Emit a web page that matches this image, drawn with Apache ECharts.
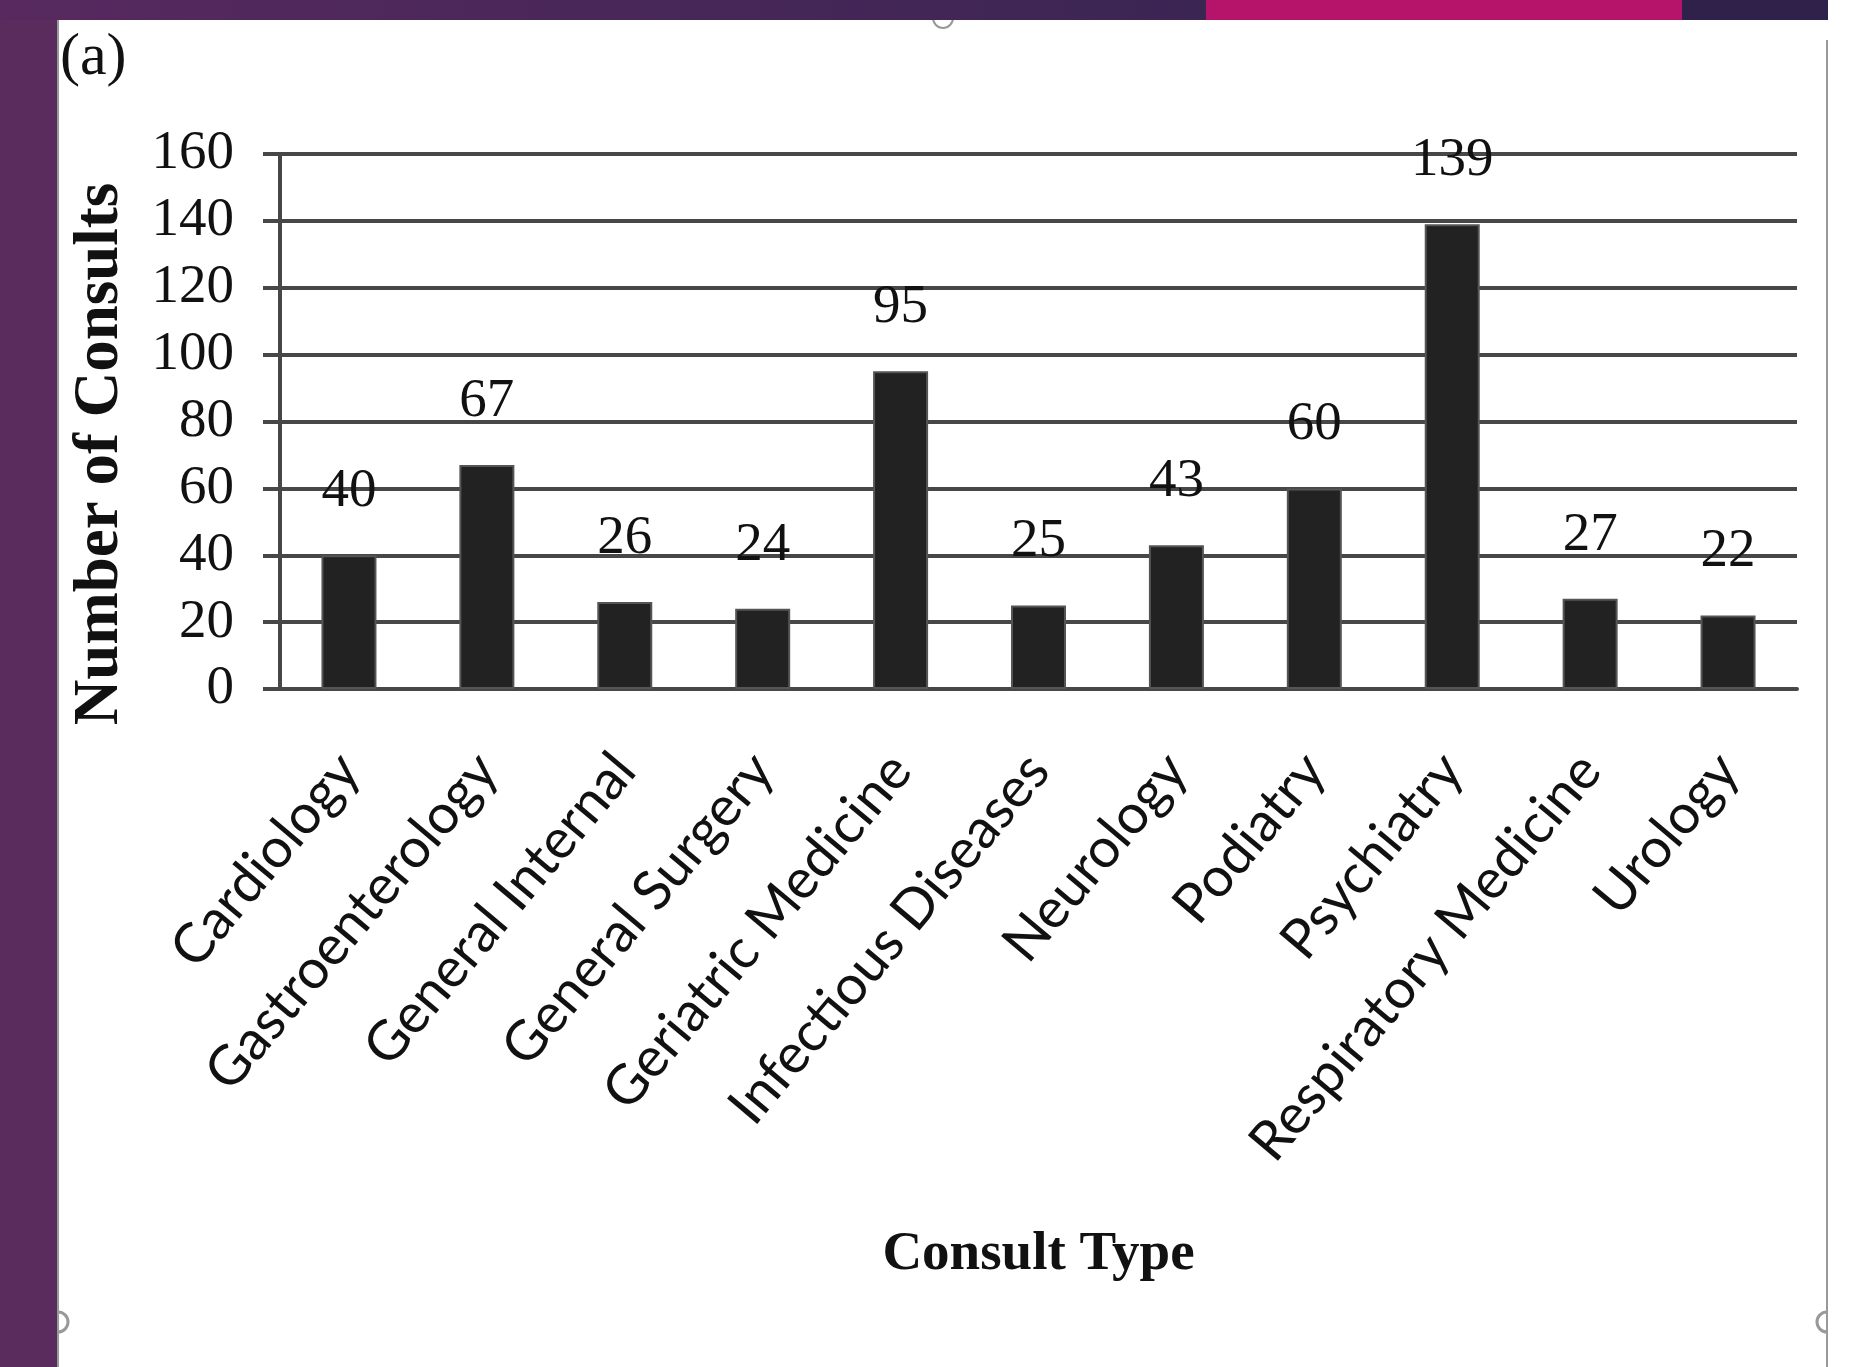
<!DOCTYPE html>
<html>
<head>
<meta charset="utf-8">
<script src="https://cdn.jsdelivr.net/npm/echarts@6/dist/echarts.min.js"></script>
<style>
  html, body { margin: 0; padding: 0; background: #fff; }
  #main { width: 1860px; height: 1367px; }
</style>
</head>
<body>
<div id="main"></div>
<script>
// data
var categories = ['Cardiology', 'Gastroenterology', 'General Internal', 'General Surgery',
  'Geriatric Medicine', 'Infectious Diseases', 'Neurology', 'Podiatry', 'Psychiatry',
  'Respiratory Medicine', 'Urology'];
var consults = [40, 67, 26, 24, 95, 25, 43, 60, 139, 27, 22];
var yMin = 0, yMax = 160, yStep = 20;

var lineCol = '#474747';
var serif = '"Liberation Serif", "DejaVu Serif", serif';

var chart = echarts.init(document.getElementById('main'));

var option = {
  backgroundColor: '#fff',
  animation: false,
  grid: { left: 280, top: 154, width: 1517, height: 535 },
  xAxis: {
    type: 'category',
    data: categories,
    boundaryGap: true,
    axisLine: { show: true, lineStyle: { color: lineCol, width: 4 } },
    axisTick: { show: false },
    axisLabel: {
      interval: 0,
      rotate: 50,
      margin: 72,
      fontFamily: 'Lato, "Open Sans", sans-serif',
      fontSize: 55,
      color: '#111'
    },
    name: 'Consult Type',
    nameLocation: 'middle',
    nameGap: 538,
    nameTextStyle: { fontFamily: serif, fontWeight: 'bold', fontSize: 55, color: '#111' }
  },
  yAxis: {
    type: 'value',
    min: yMin, max: yMax, interval: yStep,
    axisLine: { show: true, lineStyle: { color: lineCol, width: 4 } },
    axisTick: { show: true, inside: false, length: 17, lineStyle: { color: lineCol, width: 4 } },
    splitLine: { show: true, lineStyle: { color: lineCol, width: 4 } },
    axisLabel: { margin: 46, fontFamily: serif, fontSize: 55, color: '#111' }
  },
  series: [{
    type: 'bar',
    data: consults,
    barWidth: 55,
    itemStyle: { color: '#222', borderColor: '#555', borderWidth: 2 },
    label: {
      show: true, position: 'top', distance: 36,
      fontFamily: serif, fontSize: 55, color: '#111'
    }
  }],
  graphic: [
    // y axis title
    {
      type: 'text', x: 101, y: 454, rotation: Math.PI / 2, z: 5,
      style: { text: 'Number of Consults', font: 'bold 63px ' + serif, fill: '#111', align: 'center', verticalAlign: 'middle' }
    },
    // slide frame
    { type: 'rect', left: 0, top: 0, shape: { width: 57, height: 1367 }, style: { fill: '#5a2c5e' }, z: 10 },
    { type: 'line', shape: { x1: 58, y1: 20, x2: 58, y2: 1367 }, style: { stroke: '#999', lineWidth: 2 }, z: 10 },
    { type: 'line', shape: { x1: 1827, y1: 40, x2: 1827, y2: 1367 }, style: { stroke: '#999', lineWidth: 2 }, z: 10 },
    { type: 'circle', shape: { cx: 943, cy: 18, r: 10 }, style: { fill: '#fff', stroke: '#999', lineWidth: 2 }, z: 10 },
    { type: 'arc', shape: { cx: 58, cy: 1322, r: 10, startAngle: -Math.PI / 2, endAngle: Math.PI / 2 }, style: { stroke: '#999', lineWidth: 3, fill: null }, z: 10 },
    { type: 'arc', shape: { cx: 1827, cy: 1322, r: 10, startAngle: Math.PI / 2, endAngle: Math.PI * 1.5 }, style: { stroke: '#999', lineWidth: 3, fill: null }, z: 10 },
    {
      type: 'rect', left: 0, top: 0, shape: { width: 1206, height: 20 }, z: 11,
      style: { fill: new echarts.graphic.LinearGradient(0, 0, 1, 0, [
        { offset: 0, color: '#57295f' }, { offset: 1, color: '#3b2553' }]) }
    },
    { type: 'rect', left: 1206, top: 0, shape: { width: 476, height: 20 }, style: { fill: '#b5146a' }, z: 11 },
    { type: 'rect', left: 1682, top: 0, shape: { width: 146, height: 20 }, style: { fill: '#2f2149' }, z: 11 },
    // panel tag
    { type: 'text', left: 60, top: 28, style: { text: '(a)', font: '60px ' + serif, fill: '#111' }, z: 12 }
  ]
};

chart.setOption(option);
</script>
</body>
</html>
